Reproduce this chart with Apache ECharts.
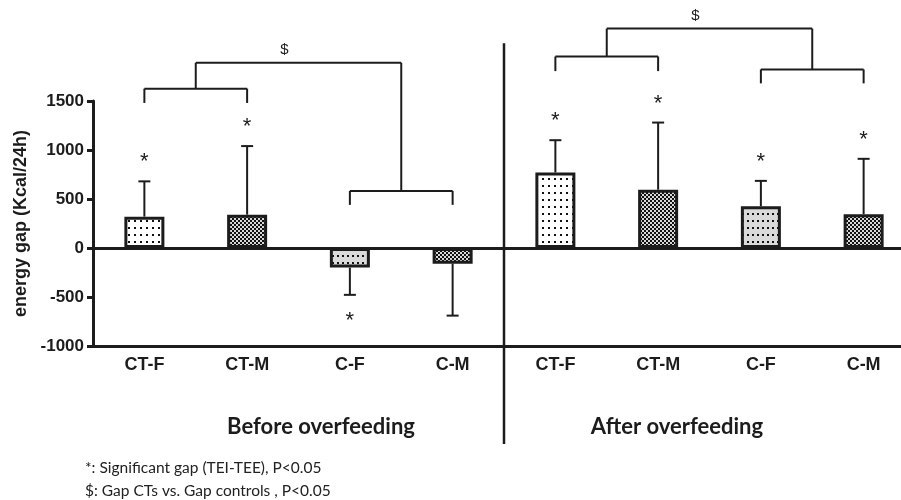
<!DOCTYPE html>
<html><head><meta charset="utf-8">
<script src="https://cdn.jsdelivr.net/npm/echarts@6/dist/echarts.min.js"></script>
<style>html,body{margin:0;padding:0;background:#fff}#c{width:901px;height:500px}</style>
</head><body><div id="c"></div>
<script>
// ---- data ----
const categories = ['CT-F', 'CT-M', 'C-F', 'C-M', 'CT-F', 'CT-M', 'C-F', 'C-M'];
const means = [320, 340, -200, -160, 770, 595, 425, 345];
const sdEnds = [680, 1040, -478, -690, 1100, 1280, 685, 910];
const significant = [1, 1, 1, 0, 1, 1, 1, 1];
const patternKinds = ['sparse', 'dense', 'light', 'dense', 'sparse', 'dense', 'light', 'dense'];
const yTickValues = [-1000, -500, 0, 500, 1000, 1500];
// pair brackets: [category a, category b, bar level, leg end level]
const pairBrackets = [[0, 1, 1626, 1480], [2, 3, 582, 440], [4, 5, 1954, 1805], [6, 7, 1822, 1680]];
// top brackets: [pair index 1, pair index 2, level]
const topBrackets = [[0, 1, 1890], [2, 3, 2239]];
const dividerRange = [2090, -2000];
const groupLabels = ['Before overfeeding', 'After overfeeding'];
const footnotes = ['*: Significant gap (TEI-TEE), P<0.05', '$: Gap CTs vs. Gap controls , P<0.05'];
const yAxisName = 'energy gap (Kcal/24h)';

// ---- patterns ----
function makePattern(kind) {
  const c = document.createElement('canvas');
  const ctx = c.getContext('2d');
  if (kind === 'sparse') {
    c.width = 6; c.height = 7;
    ctx.fillStyle = '#ffffff'; ctx.fillRect(0, 0, 6, 7);
    ctx.fillStyle = '#111'; ctx.fillRect(2, 3, 2, 2);
  } else if (kind === 'light') {
    c.width = 5; c.height = 7;
    ctx.fillStyle = '#dadada'; ctx.fillRect(0, 0, 5, 7);
    ctx.fillStyle = '#111'; ctx.fillRect(2, 3, 2, 2);
  } else {
    c.width = 4; c.height = 4;
    ctx.fillStyle = '#111'; ctx.fillRect(0, 0, 4, 4);
    ctx.fillStyle = '#d8d8d8'; ctx.fillRect(0, 0, 2, 2); ctx.fillRect(2, 2, 2, 2);
  }
  return { image: c, repeat: 'repeat' };
}

const INK = '#1c1c1c';
const chart = echarts.init(document.getElementById('c'), null, { renderer: 'canvas' });

function renderErr(params, api) {
  const i = api.value(0);
  const p1 = api.coord([i, api.value(1)]);
  const p2 = api.coord([i, api.value(2)]);
  const cap = 6;
  const children = [
    { type: 'line', shape: { x1: p1[0], y1: p1[1], x2: p2[0], y2: p2[1] }, style: { stroke: INK, lineWidth: 2 } },
    { type: 'line', shape: { x1: p2[0] - cap, y1: p2[1], x2: p2[0] + cap, y2: p2[1] }, style: { stroke: INK, lineWidth: 2 } }
  ];
  if (significant[params.dataIndex]) {
    const up = api.value(2) >= 0;
    children.push({
      type: 'text',
      style: { text: '*', x: p2[0], y: up ? p2[1] - 19 : p2[1] + 26, align: 'center', verticalAlign: 'middle',
        font: '22px "Liberation Sans"', fill: INK }
    });
  }
  return { type: 'group', children };
}

function renderAnnot(params, api) {
  if (params.dataIndex !== 0) return;
  const children = [];
  const ln = (x1, y1, x2, y2) => children.push({ type: 'line', shape: { x1, y1, x2, y2 }, style: { stroke: INK, lineWidth: 2 } });
  const X = i => api.coord([i, 0])[0];
  const Y = v => api.coord([0, v])[1];
  const mids = [];
  pairBrackets.forEach(([a, b, h, leg]) => {
    const xa = X(a), xb = X(b), yh = Y(h), yl = Y(leg);
    ln(xa, yl, xa, yh); ln(xa, yh, xb, yh); ln(xb, yh, xb, yl);
    mids.push({ x: (xa + xb) / 2, y: yh });
  });
  topBrackets.forEach(([p, q, lev]) => {
    const m1 = mids[p], m2 = mids[q], yt = Y(lev);
    ln(m1.x, m1.y, m1.x, yt); ln(m1.x, yt, m2.x, yt); ln(m2.x, yt, m2.x, m2.y);
    children.push({ type: 'text', style: { text: '$', x: (m1.x + m2.x) / 2 - 14, y: yt - 13, align: 'center', verticalAlign: 'middle',
      font: '15px "Liberation Sans"', fill: INK } });
  });
  const xd = (X(3) + X(4)) / 2;
  children.push({ type: 'line', shape: { x1: xd, y1: Y(dividerRange[0]), x2: xd, y2: Y(dividerRange[1]) }, style: { stroke: INK, lineWidth: 2.5 } });
  return { type: 'group', children };
}

chart.setOption({
  animation: false,
  backgroundColor: '#ffffff',
  grid: { left: 93, top: 101, width: 822, height: 245, outerBoundsMode: 'none', containLabel: false },
  xAxis: {
    type: 'category', data: categories,
    axisLine: { onZero: false, lineStyle: { color: INK, width: 3 } },
    axisTick: { alignWithLabel: true, length: 6, lineStyle: { color: INK, width: 3 } },
    axisLabel: { color: INK, fontWeight: 'bold', fontSize: 18, fontFamily: 'Liberation Sans', margin: 10, interval: 0 }
  },
  yAxis: {
    type: 'value', min: yTickValues[0], max: yTickValues[yTickValues.length - 1], interval: 500,
    name: yAxisName, nameLocation: 'middle', nameGap: 59,
    nameTextStyle: { color: INK, fontWeight: 'bold', fontSize: 18, fontFamily: 'Liberation Sans' },
    axisLine: { show: true, lineStyle: { color: INK, width: 3 } },
    axisTick: { show: true, length: 6, lineStyle: { color: INK, width: 3 } },
    splitLine: { show: false },
    axisLabel: { color: INK, fontWeight: 'bold', fontSize: 17, fontFamily: 'Liberation Sans', margin: 9,
      formatter: v => String(v) }
  },
  series: [
    {
      type: 'bar', barWidth: 40,
      data: means.map((v, i) => ({ value: v, itemStyle: { color: makePattern(patternKinds[i]), borderColor: INK, borderWidth: 3 } })),
      markLine: { silent: true, symbol: 'none', label: { show: false }, lineStyle: { color: INK, width: 3, type: 'solid' }, data: [{ yAxis: 0 }] },
      z: 2
    },
    {
      type: 'custom', renderItem: renderErr, z: 3, clip: false,
      data: categories.map((c, i) => [i, means[i], sdEnds[i]]),
      encode: { x: 0, y: [1, 2] }
    },
    {
      type: 'custom', renderItem: renderAnnot, z: 4, clip: false,
      data: [[0, 0]], encode: { x: 0, y: 1 }
    }
  ],
  graphic: [
    { type: 'text', x: 321, y: 427, style: { text: groupLabels[0], font: 'bold 22px Lato', fill: INK, align: 'center', verticalAlign: 'middle' } },
    { type: 'text', x: 677, y: 427, style: { text: groupLabels[1], font: 'bold 22px Lato', fill: INK, align: 'center', verticalAlign: 'middle' } },
    { type: 'text', x: 85, y: 468, style: { text: footnotes[0], font: '15.5px Lato', fill: '#222', verticalAlign: 'middle' } },
    { type: 'text', x: 85, y: 491, style: { text: footnotes[1], font: '15.5px Lato', fill: '#222', verticalAlign: 'middle' } }
  ]
});
</script>
</body></html>
